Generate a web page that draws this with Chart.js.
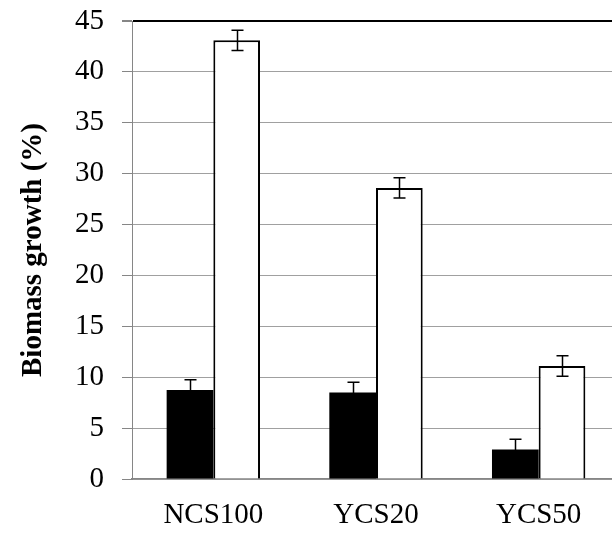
<!DOCTYPE html>
<html>
<head>
<meta charset="utf-8">
<script src="https://cdn.jsdelivr.net/npm/chart.js@4.4.0/dist/chart.umd.min.js"></script>
<style>
  html, body { margin: 0; padding: 0; background: #fff; overflow: hidden; }
  #wrap { width: 621px; height: 535px; }
</style>
</head>
<body>
<div id="wrap"><canvas id="c" width="621" height="535"></canvas></div>
<script>
const categories = ['NCS100', 'YCS20', 'YCS50'];
const blackValues = [8.75, 8.5, 2.9];
const blackErrors = [1.0, 1.0, 1.0];
const whiteValues = [43.1, 28.6, 11.1];
const whiteErrors = [1.0, 1.0, 1.0];
const yTicks = [0, 5, 10, 15, 20, 25, 30, 35, 40, 45];
const yTitle = 'Biomass growth (%)';

const errorBarPlugin = {
  id: 'errorBars',
  afterDatasetsDraw(chart) {
    const ctx = chart.ctx;
    const y = chart.scales.y;
    ctx.save();
    ctx.strokeStyle = '#000';
    ctx.lineWidth = 1.5;
    chart.data.datasets.forEach((ds, i) => {
      const meta = chart.getDatasetMeta(i);
      meta.data.forEach((bar, j) => {
        const v = ds.data[j], e = ds.errors[j];
        const yt = y.getPixelForValue(v + e);
        const yb = y.getPixelForValue(v - e);
        const x = Math.round(bar.x) + 0.5;
        const cap = 6;
        ctx.beginPath();
        ctx.moveTo(x, yt); ctx.lineTo(x, yb);
        ctx.moveTo(x - cap, yt); ctx.lineTo(x + cap, yt);
        ctx.moveTo(x - cap, yb); ctx.lineTo(x + cap, yb);
        ctx.stroke();
      });
    });
    ctx.restore();
  }
};

new Chart(document.getElementById('c'), {
  type: 'bar',
  data: {
    labels: categories,
    datasets: [
      { label: 'Series 1', data: blackValues, errors: blackErrors,
        backgroundColor: '#000', borderColor: '#000', borderWidth: 0,
        categoryPercentage: 0.574, barPercentage: 1.0 },
      { label: 'Series 2', data: whiteValues, errors: whiteErrors,
        backgroundColor: '#fff', borderColor: '#000', borderWidth: 2,
        categoryPercentage: 0.574, barPercentage: 1.0 }
    ]
  },
  options: {
    responsive: false,
    animation: false,
    layout: { padding: { top: 21, left: 0, right: 1, bottom: 0 } },
    plugins: { legend: { display: false }, tooltip: { enabled: false } },
    scales: {
      x: {
        grid: { display: false, drawTicks: false },
        border: { display: true, color: '#868686', width: 1.5 },
        ticks: { color: '#000', padding: 19,
                 font: { family: 'Liberation Serif', size: 29 } },
        afterFit(s) { s.height = 56; s.paddingLeft = 0; s.paddingRight = 0; }
      },
      y: {
        min: 0, max: 45,
        afterBuildTicks(s) { s.ticks = yTicks.map(v => ({ value: v })); },
        grid: {
          color: c => (c.tick && c.tick.value === 45) ? '#000' : '#a0a0a0',
          lineWidth: c => (c.tick && c.tick.value === 45) ? 2 : 1,
          tickColor: '#868686', tickLength: 10, drawTicks: true
        },
        border: { display: true, color: '#868686', width: 1 },
        ticks: { color: '#000', padding: 18,
                 font: { family: 'Liberation Serif', size: 29 } },
        title: { display: true, text: yTitle, color: '#000',
                 padding: { top: 16, bottom: 0 },
                 font: { family: 'Liberation Serif', size: 29, weight: 'bold' } },
        afterFit(s) { s.width = 132; s.paddingTop = 0; s.paddingBottom = 0; }
      }
    }
  },
  plugins: [errorBarPlugin]
});
</script>
</body>
</html>
